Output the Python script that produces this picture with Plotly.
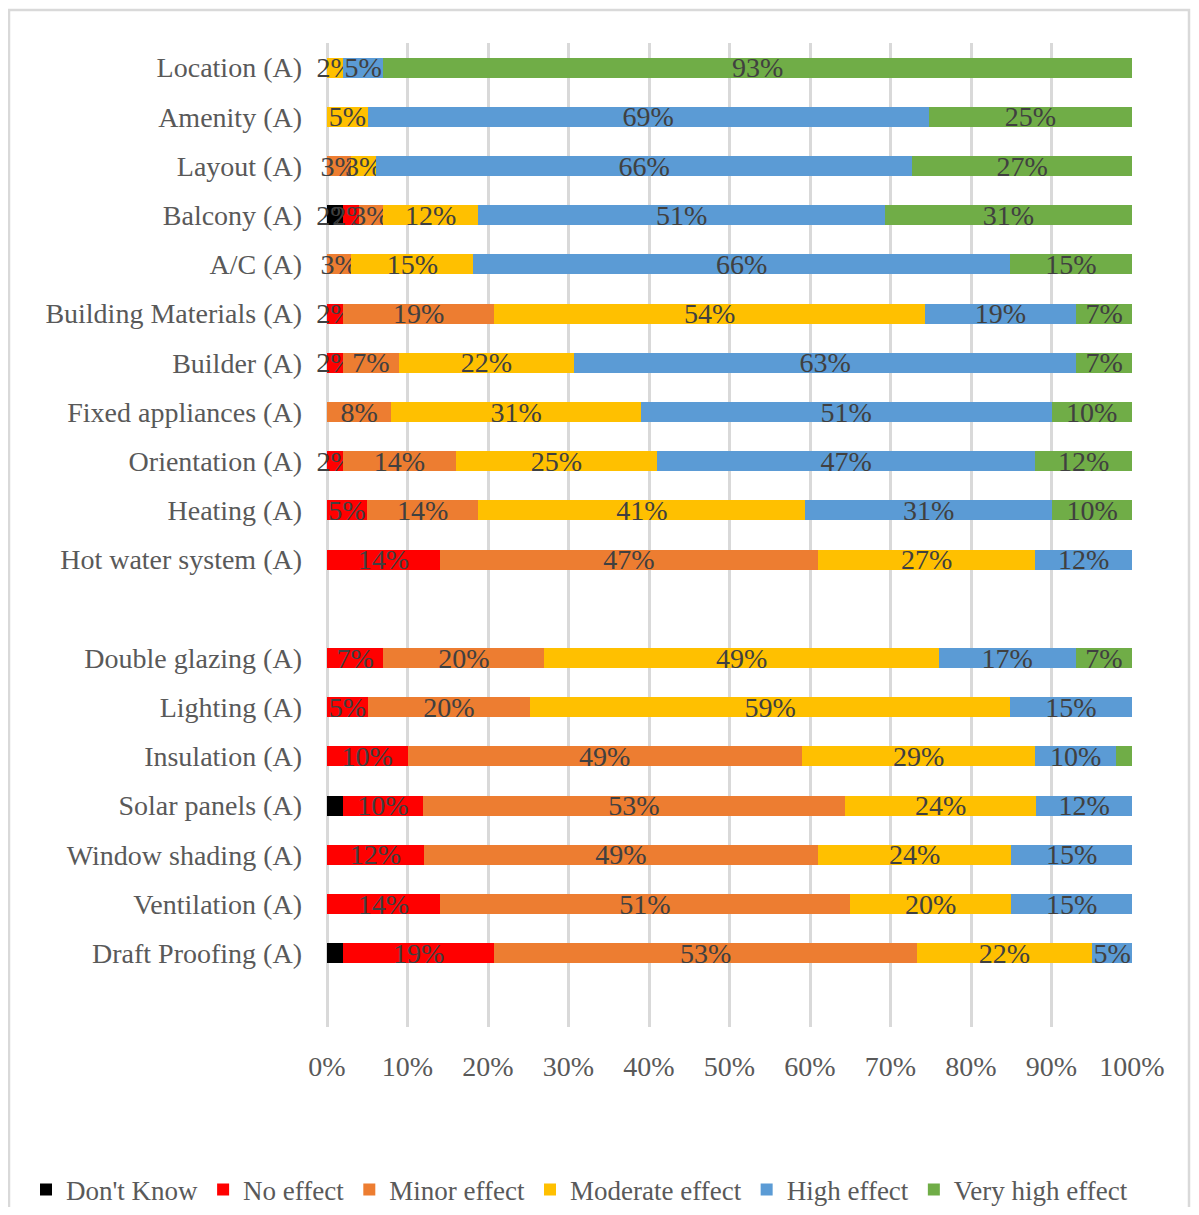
import plotly.graph_objects as go

categories = ["Location (A)", "Amenity (A)", "Layout (A)", "Balcony (A)", "A/C (A)",
              "Building Materials (A)", "Builder (A)", "Fixed appliances (A)",
              "Orientation (A)", "Heating (A)", "Hot water system (A)", " ",
              "Double glazing (A)", "Lighting (A)", "Insulation (A)", "Solar panels (A)",
              "Window shading (A)", "Ventilation (A)", "Draft Proofing (A)", "  "]

dont_know = [0, 0, 0, 2, 0, 0, 0, 0, 0, 0, 0, None, 0, 0, 0, 2, 0, 0, 2, None]
no_effect = [0, 0, 0, 2, 0, 2, 2, 0, 2, 5, 14, None, 7, 5, 10, 10, 12, 14, 19, None]
minor_effect = [0, 0, 3, 3, 3, 19, 7, 8, 14, 14, 47, None, 20, 20, 49, 53, 49, 51, 53, None]
moderate_effect = [2, 5, 3, 12, 15, 54, 22, 31, 25, 41, 27, None, 49, 59, 29, 24, 24, 20, 22, None]
high_effect = [5, 69, 66, 51, 66, 19, 63, 51, 47, 31, 12, None, 17, 15, 10, 12, 15, 15, 5, None]
very_high_effect = [93, 25, 27, 31, 15, 7, 7, 10, 12, 10, 0, None, 7, 0, 2, 0, 0, 0, 0, None]

series_names = ["Don't Know", "No effect", "Minor effect", "Moderate effect", "High effect", "Very high effect"]
series_values = [dont_know, no_effect, minor_effect, moderate_effect, high_effect, very_high_effect]
series_colors = ["#000000", "#FF0000", "#ED7D31", "#FFC000", "#5B9BD5", "#70AD47"]

# labels not shown in the original chart (series, category)
hidden_labels = {("Very high effect", "Insulation (A)"), ("Don't Know", "Solar panels (A)"),
                 ("Don't Know", "Draft Proofing (A)")}

FONT = "Liberation Serif, Times New Roman, serif"

# figure is placed 8px in from the page corner (body margin)
OFF = 8
W, H = 1199 - 2 * OFF, 1215 - 2 * OFF
L, T = 327 - OFF, 43 - OFF
R = W - (1132 - OFF)
B = H - (1027 - OFF)
pw, ph = W - L - R, H - T - B

def px_x(page_x):
    return (page_x - OFF - L) / pw

def px_y(page_y):
    return (H - B - (page_y - OFF)) / ph

fig = go.Figure()
for name, vals, col in zip(series_names, series_values, series_colors):
    texts = []
    for c, v in zip(categories, vals):
        if not v or (name, c) in hidden_labels:
            texts.append("")
        else:
            texts.append(f"{v}%")
    fig.add_trace(go.Bar(
        y=categories, x=vals, name=name, orientation="h",
        marker=dict(color=col, line=dict(width=0)),
        text=texts, textposition="inside", insidetextanchor="middle",
        constraintext="none", textangle=0,
        insidetextfont=dict(family=FONT, size=28, color="#404040"),
        cliponaxis=False, hoverinfo="name+x+y",
    ))

fig.update_layout(
    width=W, height=H,
    barmode="stack", barnorm="percent", bargap=0.59,
    plot_bgcolor="white", paper_bgcolor="white",
    margin=dict(l=L, r=R, t=T, b=B, autoexpand=False),
    font=dict(family=FONT, color="#595959"),
    xaxis=dict(range=[0, 100.0001], tickvals=[0, 10, 20, 30, 40, 50, 60, 70, 80, 90, 100],
               ticktext=[f"{v}%" for v in range(0, 101, 10)],
               showgrid=True, gridcolor="#d9d9d9", gridwidth=2.5,
               zeroline=True, zerolinecolor="#d9d9d9", zerolinewidth=2.5,
               showline=False, ticks="", ticklabelstandoff=20,
               tickfont=dict(family=FONT, size=28, color="#595959")),
    yaxis=dict(categoryorder="array", categoryarray=categories,
               range=[len(categories) - 0.5, -0.5],
               showgrid=False, zeroline=False, showline=False, ticks="",
               ticklabelstandoff=24,
               tickfont=dict(family=FONT, size=28, color="#595959")),
    legend=dict(orientation="h", x=px_x(26), xanchor="left",
                y=px_y(1190), yanchor="middle",
                font=dict(family=FONT, size=27, color="#595959"),
                itemwidth=30, traceorder="normal", bgcolor="rgba(0,0,0,0)"),
    shapes=[dict(type="rect", xref="paper", yref="paper",
                 x0=px_x(9), x1=px_x(1189),
                 y0=px_y(1260), y1=px_y(10),
                 line=dict(color="#d9d9d9", width=2.5), fillcolor="rgba(0,0,0,0)",
                 layer="below")],
)

fig.write_html("out.html")
